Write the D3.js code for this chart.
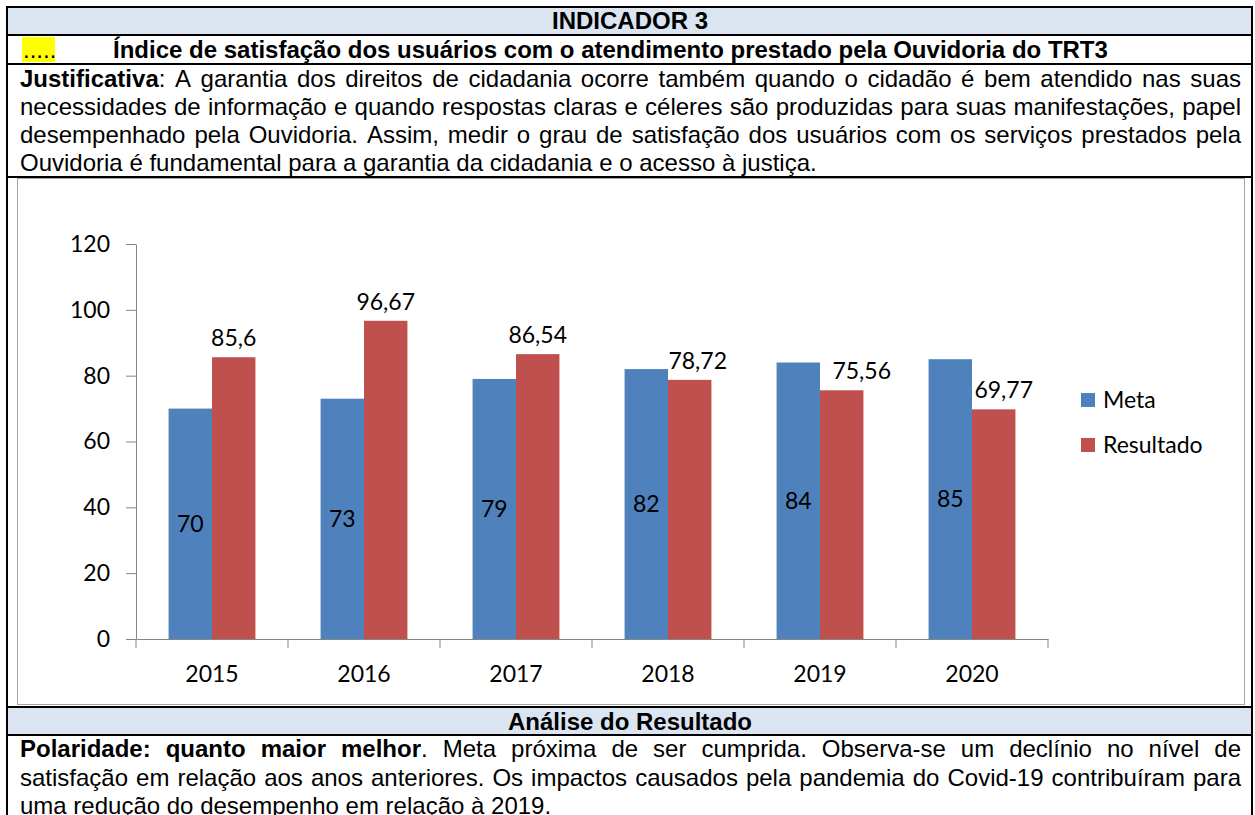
<!DOCTYPE html>
<html>
<head>
<meta charset="utf-8">
<script src="https://cdn.jsdelivr.net/npm/d3@7"></script>
<style>
  body { margin: 0; background: #fff; }
  svg { display: block; }
</style>
</head>
<body>
<div id="chart"></div>
<script>
// ---- data ----
const years = ["2015", "2016", "2017", "2018", "2019", "2020"];
const meta = [70, 73, 79, 82, 84, 85];
const resultado = [85.6, 96.67, 86.54, 78.72, 75.56, 69.77];
const yTicks = [0, 20, 40, 60, 80, 100, 120];
const seriesNames = ["Meta", "Resultado"];

// ---- texts ----
const headerTitle = "INDICADOR 3";
const indicatorTitle = "Índice de satisfação dos usuários com o atendimento prestado pela Ouvidoria do TRT3";
const justLines = [
  "**Justificativa**: A garantia dos direitos de cidadania ocorre também quando o cidadão é bem atendido nas suas",
  "necessidades de informação e quando respostas claras e céleres são produzidas para suas manifestações, papel",
  "desempenhado pela Ouvidoria. Assim, medir o grau de satisfação dos usuários com os serviços prestados pela",
  "Ouvidoria é fundamental para a garantia da cidadania e o acesso à justiça."
];
const analysisTitle = "Análise do Resultado";
const analysisLines = [
  "**Polaridade: quanto maior melhor**. Meta próxima de ser cumprida. Observa-se um declínio no nível de",
  "satisfação em relação aos anos anteriores. Os impactos causados pela pandemia do Covid-19 contribuíram para",
  "uma redução do desempenho em relação à 2019."
];

const W = 1255, H = 815;
const TABLE_FONT = "'Liberation Sans', Arial, sans-serif";
const CHART_FONT = "Lato, 'Open Sans', sans-serif";
const BLUE = "#4f81bd", RED = "#c0504d", AXIS = "#868686", BAND = "#dbe5f1";

// label nudges for the Resultado labels (as placed in the original)
const resLabelDx = [0, 0, 0, 8, 20, 10];

const svg = d3.select("#chart").append("svg")
    .attr("width", W)
    .attr("height", H);

const comma = v => String(v).replace(".", ",");

// ---------- table frame ----------
svg.append("rect").attr("x", 7).attr("y", 7).attr("width", 1245).attr("height", 28).attr("fill", BAND);
svg.append("rect").attr("x", 7).attr("y", 707).attr("width", 1245).attr("height", 28).attr("fill", BAND);
svg.append("rect").attr("x", 22).attr("y", 37).attr("width", 33).attr("height", 25).attr("fill", "#ffff00");

// chart area inner border
svg.append("rect")
    .attr("x", 17.5).attr("y", 178.5)
    .attr("width", 1227).attr("height", 526)
    .attr("fill", "#fff")
    .attr("stroke", "#a6a6a6");

const frame = svg.append("g").attr("stroke", "#000").attr("stroke-width", 2);
[7, 35, 64, 177, 707, 735].forEach(yy => {
  frame.append("line").attr("x1", 6).attr("x2", 1253).attr("y1", yy).attr("y2", yy);
});
[7, 1252].forEach(xx => {
  frame.append("line").attr("x1", xx).attr("x2", xx).attr("y1", 6).attr("y2", H);
});

// ---------- table text ----------
const txt = svg.append("g")
    .attr("font-family", TABLE_FONT)
    .attr("font-size", 24)
    .attr("fill", "#000");

txt.append("text")
    .attr("x", 630).attr("y", 29)
    .attr("text-anchor", "middle")
    .attr("font-weight", "bold")
    .text(headerTitle);

txt.append("text").attr("x", 23).attr("y", 58).text(".....");
txt.append("text")
    .attr("x", 113).attr("y", 58)
    .attr("font-weight", "bold")
    .text(indicatorTitle);

txt.append("text")
    .attr("x", 630).attr("y", 730)
    .attr("text-anchor", "middle")
    .attr("font-weight", "bold")
    .text(analysisTitle);

function parseWords(line) {
  const words = [];
  let cur = [], bold = false, buf = "";
  const flush = () => { if (buf) { cur.push({t: buf, b: bold}); buf = ""; } };
  for (let i = 0; i < line.length; i++) {
    if (line.startsWith("**", i)) { flush(); bold = !bold; i++; continue; }
    const ch = line[i];
    if (ch === " ") { flush(); if (cur.length) words.push(cur); cur = []; }
    else buf += ch;
  }
  flush();
  if (cur.length) words.push(cur);
  return words;
}

// width of a normal space
const probeA = txt.append("text").text("a a");
const probeB = txt.append("text").text("aa");
const spaceW = probeA.node().getComputedTextLength() - probeB.node().getComputedTextLength();
probeA.remove(); probeB.remove();

function drawLine(line, xLeft, xRight, yBase, justify) {
  const words = parseWords(line);
  const nodes = words.map(w => {
    const t = txt.append("text").attr("y", yBase);
    w.forEach(r => t.append("tspan").attr("font-weight", r.b ? "bold" : null).text(r.t));
    return t;
  });
  const widths = nodes.map(n => n.node().getComputedTextLength());
  const gap = justify && words.length > 1
    ? (xRight - xLeft - d3.sum(widths)) / (words.length - 1)
    : spaceW;
  let xx = xLeft;
  nodes.forEach((n, i) => { n.attr("x", xx); xx += widths[i] + gap; });
}

justLines.forEach((l, i) => drawLine(l, 20, 1241, 87 + i * 28, i < justLines.length - 1));
analysisLines.forEach((l, i) => drawLine(l, 20, 1241, 757 + i * 28.5, i < analysisLines.length - 1));

// ---------- chart ----------
const PLOT = {left: 136, right: 1048, top: 244, bottom: 639};

const x = d3.scaleBand()
    .domain(years)
    .range([PLOT.left, PLOT.right]);

const xs = d3.scaleBand()
    .domain(seriesNames)
    .range([0, x.bandwidth()])
    .paddingOuter(0.75);

const y = d3.scaleLinear()
    .domain([0, 120])
    .range([PLOT.bottom, PLOT.top]);

const chart = svg.append("g").attr("font-family", CHART_FONT);

const rows = years.map((yr, i) => ({year: yr, Meta: meta[i], Resultado: resultado[i], i}));

// bars
const groups = chart.selectAll("g.year")
  .data(rows)
  .enter().append("g")
    .attr("class", "year")
    .attr("transform", d => `translate(${x(d.year)},0)`);

groups.append("rect")
    .attr("x", xs("Meta"))
    .attr("width", xs.bandwidth())
    .attr("y", d => y(d.Meta))
    .attr("height", d => y(0) - y(d.Meta))
    .attr("fill", BLUE);

groups.append("rect")
    .attr("x", xs("Resultado"))
    .attr("width", xs.bandwidth())
    .attr("y", d => y(d.Resultado))
    .attr("height", d => y(0) - y(d.Resultado))
    .attr("fill", RED);

// data labels
groups.append("text")
    .attr("x", xs("Meta") + xs.bandwidth() / 2)
    .attr("y", d => (y(d.Meta) + y(0)) / 2)
    .attr("dy", "0.35em")
    .attr("text-anchor", "middle")
    .attr("font-size", 23)
    .attr("fill", "#000")
    .text(d => comma(d.Meta));

groups.append("text")
    .attr("x", d => xs("Resultado") + xs.bandwidth() / 2 + resLabelDx[d.i])
    .attr("y", d => y(d.Resultado) - 19)
    .attr("dy", "0.35em")
    .attr("text-anchor", "middle")
    .attr("font-size", 23)
    .attr("fill", "#000")
    .text(d => comma(d.Resultado));

// y axis
const yAxis = chart.append("g")
    .attr("transform", `translate(${PLOT.left},0)`)
    .call(d3.axisLeft(y).tickValues(yTicks).tickSize(10).tickSizeOuter(0).tickPadding(16));
yAxis.select(".domain").attr("stroke", AXIS);
yAxis.selectAll(".tick line").attr("stroke", AXIS);
yAxis.selectAll(".tick text")
    .attr("font-family", CHART_FONT)
    .attr("font-size", 23)
    .attr("fill", "#000");

// x axis
const xAxis = chart.append("g")
    .attr("transform", `translate(0,${PLOT.bottom})`)
    .call(d3.axisBottom(x).tickSize(0).tickSizeOuter(0));
xAxis.select(".domain").attr("stroke", AXIS);
xAxis.selectAll(".tick text")
    .attr("font-family", CHART_FONT)
    .attr("font-size", 23)
    .attr("fill", "#000")
    .attr("y", 35)
    .attr("dy", "0.35em");
xAxis.selectAll("line.sep")
  .data(years.map(d => x(d)).concat([PLOT.right]))
  .enter().append("line")
    .attr("class", "sep")
    .attr("x1", d => d).attr("x2", d => d)
    .attr("y1", 0).attr("y2", 9)
    .attr("stroke", AXIS);

// legend
const legend = chart.append("g").attr("transform", "translate(1081,400)");
seriesNames.forEach((name, i) => {
  const g = legend.append("g").attr("transform", `translate(0,${i * 45})`);
  g.append("rect")
      .attr("x", 0).attr("y", -7)
      .attr("width", 14).attr("height", 14)
      .attr("fill", i === 0 ? BLUE : RED);
  g.append("text")
      .attr("x", 22).attr("y", 0)
      .attr("dy", "0.35em")
      .attr("font-size", 23)
      .attr("fill", "#000")
      .text(name);
});
</script>
</body>
</html>
